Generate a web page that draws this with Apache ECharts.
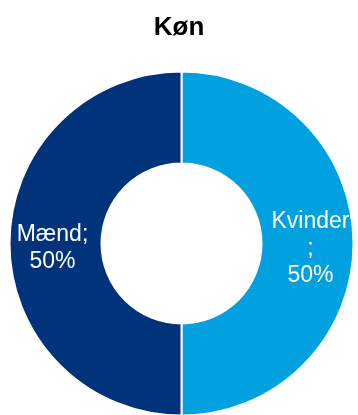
<!DOCTYPE html>
<html>
<head>
<meta charset="utf-8">
<script src="https://cdn.jsdelivr.net/npm/echarts@6/dist/echarts.min.js"></script>
<style>
  html, body { margin: 0; padding: 0; background: #ffffff; }
  #chart { width: 358px; height: 415px; }
</style>
</head>
<body>
<div id="chart"></div>
<script>
// Gender split (Køn)
const categories = ['Kvinder', 'Mænd'];
const shares = [50, 50];
const colors = ['#00A1DE', '#00337A'];

const chart = echarts.init(document.getElementById('chart'), null, { renderer: 'canvas' });

chart.setOption({
  animation: false,
  title: {
    text: 'Køn',
    left: 'center',
    top: 10,
    textStyle: {
      fontFamily: 'Liberation Sans',
      fontSize: 26,
      fontWeight: 'bold',
      color: '#000000'
    }
  },
  series: [{
    type: 'pie',
    center: [181.5, 243.5],
    radius: [80, 172],
    startAngle: 90,
    clockwise: true,
    avoidLabelOverlap: false,
    itemStyle: { borderColor: '#ffffff', borderWidth: 2 },
    label: {
      show: true,
      position: 'inside',
      color: '#ffffff',
      fontFamily: 'Liberation Sans',
      fontSize: 23,
      lineHeight: 27,
      width: 80,
      overflow: 'break',
      align: 'center',
      formatter: p => p.name + ';\n' + Math.round(p.percent) + '%'
    },
    labelLayout: { dy: 5 },
    labelLine: { show: false },
    emphasis: { disabled: true },
    data: categories.map((c, i) => ({
      name: c,
      value: shares[i],
      itemStyle: { color: colors[i] }
    }))
  }]
});
</script>
</body>
</html>
